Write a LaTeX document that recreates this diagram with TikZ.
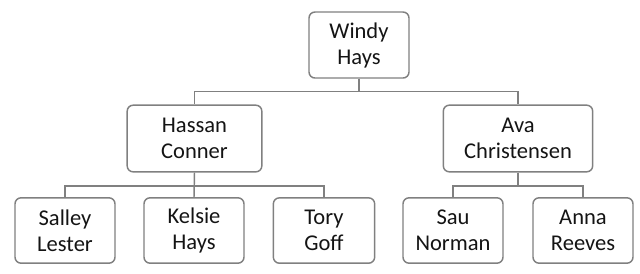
\documentclass[tikz,border=0pt]{standalone}
\usepackage{fontspec}
\setmainfont{Carlito}
\usepackage{tikz}
\definecolor{boxgray}{RGB}{128,128,128}
\definecolor{textgray}{RGB}{20,20,20}

\begin{document}
\begin{tikzpicture}[x=0.75pt,y=0.75pt,
		member/.style={draw=boxgray,line width=1.1pt,rounded corners=4.5pt,align=center,
			text=textgray,font=\fontsize{16.9}{19.5}\selectfont,
			minimum width=75pt,minimum height=49pt,inner sep=0pt},
		link/.style={draw=boxgray,line width=1.1pt}]
		\useasboundingbox (0,0) rectangle (640,-273);
		\node[member,minimum height=49.5pt] (windy) at (359,-45) {Windy\\Hays};
		\node[member,minimum width=101pt,minimum height=50pt] (hassan) at (194.5,-138.5) {Hassan\\Conner};
		\node[member,minimum width=112pt,minimum height=50pt] (ava) at (518,-138.5) {Ava\\Christensen};
		\node[member] (salley) at (65,-230.5) {Salley\\Lester};
		\node[member] (kelsie) at (194,-230.5) {Kelsie\\Hays};
		\node[member,minimum width=76pt] (tory) at (324,-230.5) {Tory\\Goff};
		\node[member] (sau) at (453,-230.5) {Sau\\Norman};
		\node[member] (anna) at (583,-230.5) {Anna\\Reeves};
		\draw[link] (windy.south) -- ++(0,-12.5) -| (hassan.north);
		\draw[link] (windy.south) -- ++(0,-12.5) -| (ava.north);
		\draw[link] (hassan.south) -- ++(0,-13.5) -| (salley.north);
		\draw[link] (hassan.south) -- (kelsie.north);
		\draw[link] (hassan.south) -- ++(0,-13.5) -| (tory.north);
		\draw[link] (ava.south) -- ++(0,-13.5) -| (sau.north);
		\draw[link] (ava.south) -- ++(0,-13.5) -| (anna.north);
	\end{tikzpicture}
\end{document}
